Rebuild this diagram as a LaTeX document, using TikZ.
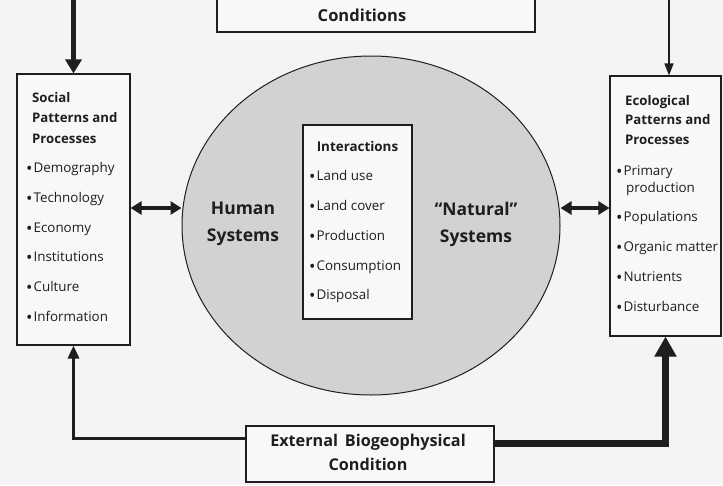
\documentclass[tikz,border=0pt]{standalone}
\usepackage{fontspec}
\setmainfont{Open Sans}
\usetikzlibrary{arrows.meta,shapes.geometric}
\definecolor{bg}{RGB}{244,244,246}
\definecolor{boxfill}{RGB}{248,248,250}
\definecolor{ellfill}{RGB}{210,210,213}
\definecolor{ink}{RGB}{30,30,32}
\newcommand{\bul}{{\fontsize{17}{15}\selectfont\raisebox{-2pt}{•}}\hspace{1pt}}
\begin{document}
\begin{tikzpicture}[x=1pt,y=-1pt,
  box/.style={draw=ink, line width=1.1pt, fill=boxfill, rectangle, inner sep=0pt},
  txt/.style={anchor=base west, inner sep=0pt, text=ink, font=\fontsize{13.4}{15}\selectfont},
  hdr/.style={anchor=base west, inner sep=0pt, text=ink, font=\bfseries\fontsize{13.2}{15}\selectfont},
  big/.style={inner sep=0pt, text=ink, align=center},
  conn/.style={draw=ink}]
\useasboundingbox (0,0) rectangle (723,485);
\clip (0,0) rectangle (723,485);
\fill[bg] (0,0) rectangle (723,485);

% boxes
\node[box, minimum width=318pt, minimum height=72pt] (top) at (376,-4) {};
\node[big, font=\bfseries\fontsize{16.5}{18}\selectfont] (toptext) at (362,15) {Conditions};
\node[box, minimum width=113pt, minimum height=271pt] (social) at (73.5,209.5) {};
\node[box, minimum width=111pt, minimum height=260pt] (eco) at (665.5,206) {};
\node[ellipse, draw=ink, line width=1pt, fill=ellfill, minimum width=378pt, minimum height=339pt, inner sep=0pt] (ell) at (371,225.5) {};
\node[box, minimum width=109pt, minimum height=194pt] (inter) at (357.5,222) {};
\node[box, minimum width=248pt, minimum height=56pt] (ext) at (370,454) {};
\node[big, font=\bfseries\fontsize{16.2}{24}\selectfont] (exttext) at (368,452) {External\, Biogeophysical\\Condition};

% social box text
\node[hdr] (s1) at (32,102) {Social};
\node[hdr] (s2) at (32,122) {Patterns and};
\node[hdr] (s3) at (32,143) {Processes};
\node[txt] (s4) at (26,172) {\bul Demography};
\node[txt] (s5) at (26,202) {\bul Technology};
\node[txt] (s6) at (26,232) {\bul Economy};
\node[txt] (s7) at (26,261) {\bul Institutions};
\node[txt] (s8) at (26,291) {\bul Culture};
\node[txt] (s9) at (26,321) {\bul Information};

% ecological box text
\node[hdr] (e1) at (625,105) {Ecological};
\node[hdr] (e2) at (625,124) {Patterns and};
\node[hdr] (e3) at (625,144) {Processes};
\node[txt] (e4) at (616,175) {\bul Primary};
\node[txt] (e5) at (626,192) {production};
\node[txt] (e6) at (616,221) {\bul Populations};
\node[txt] (e7) at (616,251) {\bul Organic matter};
\node[txt] (e8) at (616,281) {\bul Nutrients};
\node[txt] (e9) at (616,311) {\bul Disturbance};

% interactions text
\node[big, font=\bfseries\fontsize{13.4}{15}\selectfont] (i0) at (357.5,146) {Interactions};
\node[txt] (i1) at (309,180) {\bul Land use};
\node[txt] (i2) at (309,210) {\bul Land cover};
\node[txt] (i3) at (309,240) {\bul Production};
\node[txt] (i4) at (309,270) {\bul Consumption};
\node[txt] (i5) at (309,299) {\bul Disposal};

% system labels
\node[big, font=\bfseries\fontsize{17.5}{27}\selectfont] (human) at (243,224) {Human\\Systems};
\node[big, font=\bfseries\fontsize{17.5}{27}\selectfont] (natural) at (476,224) {“Natural”\\Systems};

% connectors
\coordinate (tl) at (73.5,-2);
\coordinate (tr) at (669,-2);
\draw[conn, line width=4.5pt, -{Triangle[width=16pt,length=14pt]}] (tl) -- (tl |- social.north);
\draw[conn, line width=1.6pt, -{Triangle[width=9pt,length=12pt]}] (tr) -- (tr |- eco.north);
\draw[conn, line width=3pt, -{Triangle[width=11pt,length=13pt]}] ([yshift=16pt]ext.west) -| (social.south);
\draw[conn, line width=7pt, -{Triangle[width=21pt,length=20pt]}] ([yshift=11pt]ext.east) -| (eco.south);
\draw[conn, line width=4pt, {Triangle[width=13pt,length=11pt]}-{Triangle[width=13pt,length=11pt]}] (social.east |- 0,208) -- ([yshift=17.5pt]ell.west);
\draw[conn, line width=4pt, {Triangle[width=13pt,length=11pt]}-{Triangle[width=13pt,length=11pt]}] ([yshift=17.5pt]ell.east) -- (eco.west |- 0,208);
\end{tikzpicture}
\end{document}
